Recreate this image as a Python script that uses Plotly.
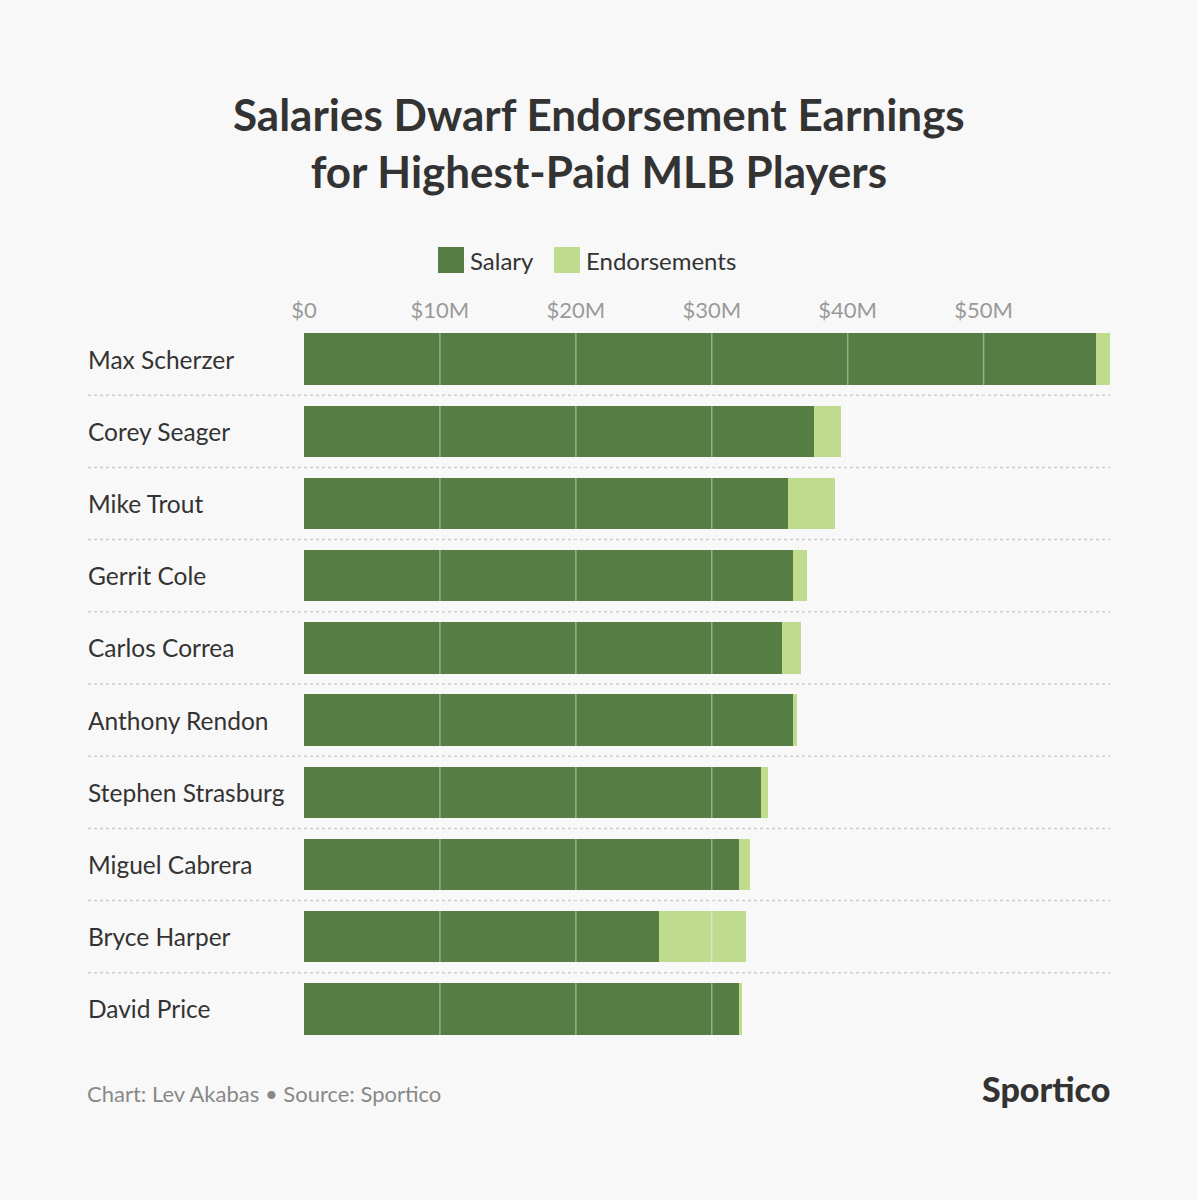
import plotly.graph_objects as go

players = ["Max Scherzer", "Corey Seager", "Mike Trout", "Gerrit Cole", "Carlos Correa",
           "Anthony Rendon", "Stephen Strasburg", "Miguel Cabrera", "Bryce Harper", "David Price"]
salary = [58.3, 37.5, 35.6, 36.0, 35.2, 36.0, 33.6, 32.0, 26.1, 32.0]
endorsements = [1.0, 2.0, 3.5, 1.0, 1.4, 0.25, 0.55, 0.8, 6.4, 0.25]
tick_vals = [0, 10, 20, 30, 40, 50]
tick_text = ["$0", "$10M", "$20M", "$30M", "$40M", "$50M"]
series_names = ["Salary", "Endorsements"]
colors = ["#567d43", "#bedb8e"]

BG = "#f8f8f8"
FONT = "Lato"
W, H = 1198, 1200
ML, MR, MT, MB = 304, 88, 323, 155
pw = W - ML - MR
ph = H - MT - MB

def px_x(px):
    return (px - ML) / pw

def px_y(py):
    return 1 - (py - MT) / ph

fig = go.Figure()
fig.add_trace(go.Bar(y=players, x=salary, orientation="h", name=series_names[0],
                     marker=dict(color=colors[0], line=dict(width=0)), width=0.71))
fig.add_trace(go.Bar(y=players, x=endorsements, orientation="h", name=series_names[1],
                     marker=dict(color=colors[1], line=dict(width=0)), width=0.71))

shapes = []
# gridlines on top of bars
for v in tick_vals[1:]:
    shapes.append(dict(type="line", xref="x", yref="paper", x0=v, x1=v, y0=0, y1=1,
                       line=dict(color="rgba(255,255,255,0.38)", width=1.5), layer="above"))
# dotted separators
for i in range(len(players) - 1):
    shapes.append(dict(type="line", xref="paper", yref="y", x0=px_x(88), x1=px_x(1110),
                       y0=i + 0.5, y1=i + 0.5,
                       line=dict(color="#d2cccc", width=1.5, dash="dot"), layer="below"))
# legend squares
leg = [(438, series_names[0], colors[0]), (554, series_names[1], colors[1])]
annotations = []
for x0, name, c in leg:
    shapes.append(dict(type="rect", xref="paper", yref="paper",
                       x0=px_x(x0), x1=px_x(x0 + 26), y0=px_y(273), y1=px_y(247),
                       fillcolor=c, line=dict(width=0)))
    annotations.append(dict(xref="paper", yref="paper", x=px_x(x0 + 30), y=px_y(260),
                            xanchor="left", yanchor="middle", showarrow=False,
                            text=name, font=dict(family=FONT, size=24, color="#333333")))

# category labels
for i, p in enumerate(players):
    annotations.append(dict(xref="paper", yref="y", x=px_x(86), y=i, xanchor="left",
                            yanchor="middle", showarrow=False, text=p,
                            font=dict(family=FONT, size=24.5, color="#333333")))

# title
annotations.append(dict(xref="paper", yref="paper", x=px_x(599), y=px_y(142),
                        xanchor="center", yanchor="middle", showarrow=False,
                        text="<b>Salaries Dwarf Endorsement Earnings<br>for Highest-Paid MLB Players</b>",
                        font=dict(family=FONT, size=44, color="#333333")))
# footer
annotations.append(dict(xref="paper", yref="paper", x=px_x(85), y=px_y(1093),
                        xanchor="left", yanchor="middle", showarrow=False,
                        text="Chart: Lev Akabas • Source: Sportico",
                        font=dict(family=FONT, size=22, color="#888888")))
annotations.append(dict(xref="paper", yref="paper", x=px_x(1112), y=px_y(1088),
                        xanchor="right", yanchor="middle", showarrow=False,
                        text="Sportico",
                        font=dict(family=FONT, size=34, color="#333333", weight=900)))

fig.update_layout(
    width=W, height=H, autosize=False,
    margin=dict(l=ML, r=MR, t=MT, b=MB, pad=0),
    paper_bgcolor=BG, plot_bgcolor=BG,
    barmode="stack", showlegend=False,
    shapes=shapes, annotations=annotations,
    xaxis=dict(range=[0, 59.3], side="top", tickvals=tick_vals, ticktext=tick_text,
               showgrid=False, zeroline=False, showline=False, ticks="",
               tickfont=dict(family=FONT, size=22, color="#9a9a9a"), fixedrange=True),
    yaxis=dict(showticklabels=False, showgrid=False,
               zeroline=False, showline=False, ticks="", fixedrange=True),
)
fig.update_yaxes(autorange=False, range=[9.5, -0.5])

fig.write_html("out.html")
